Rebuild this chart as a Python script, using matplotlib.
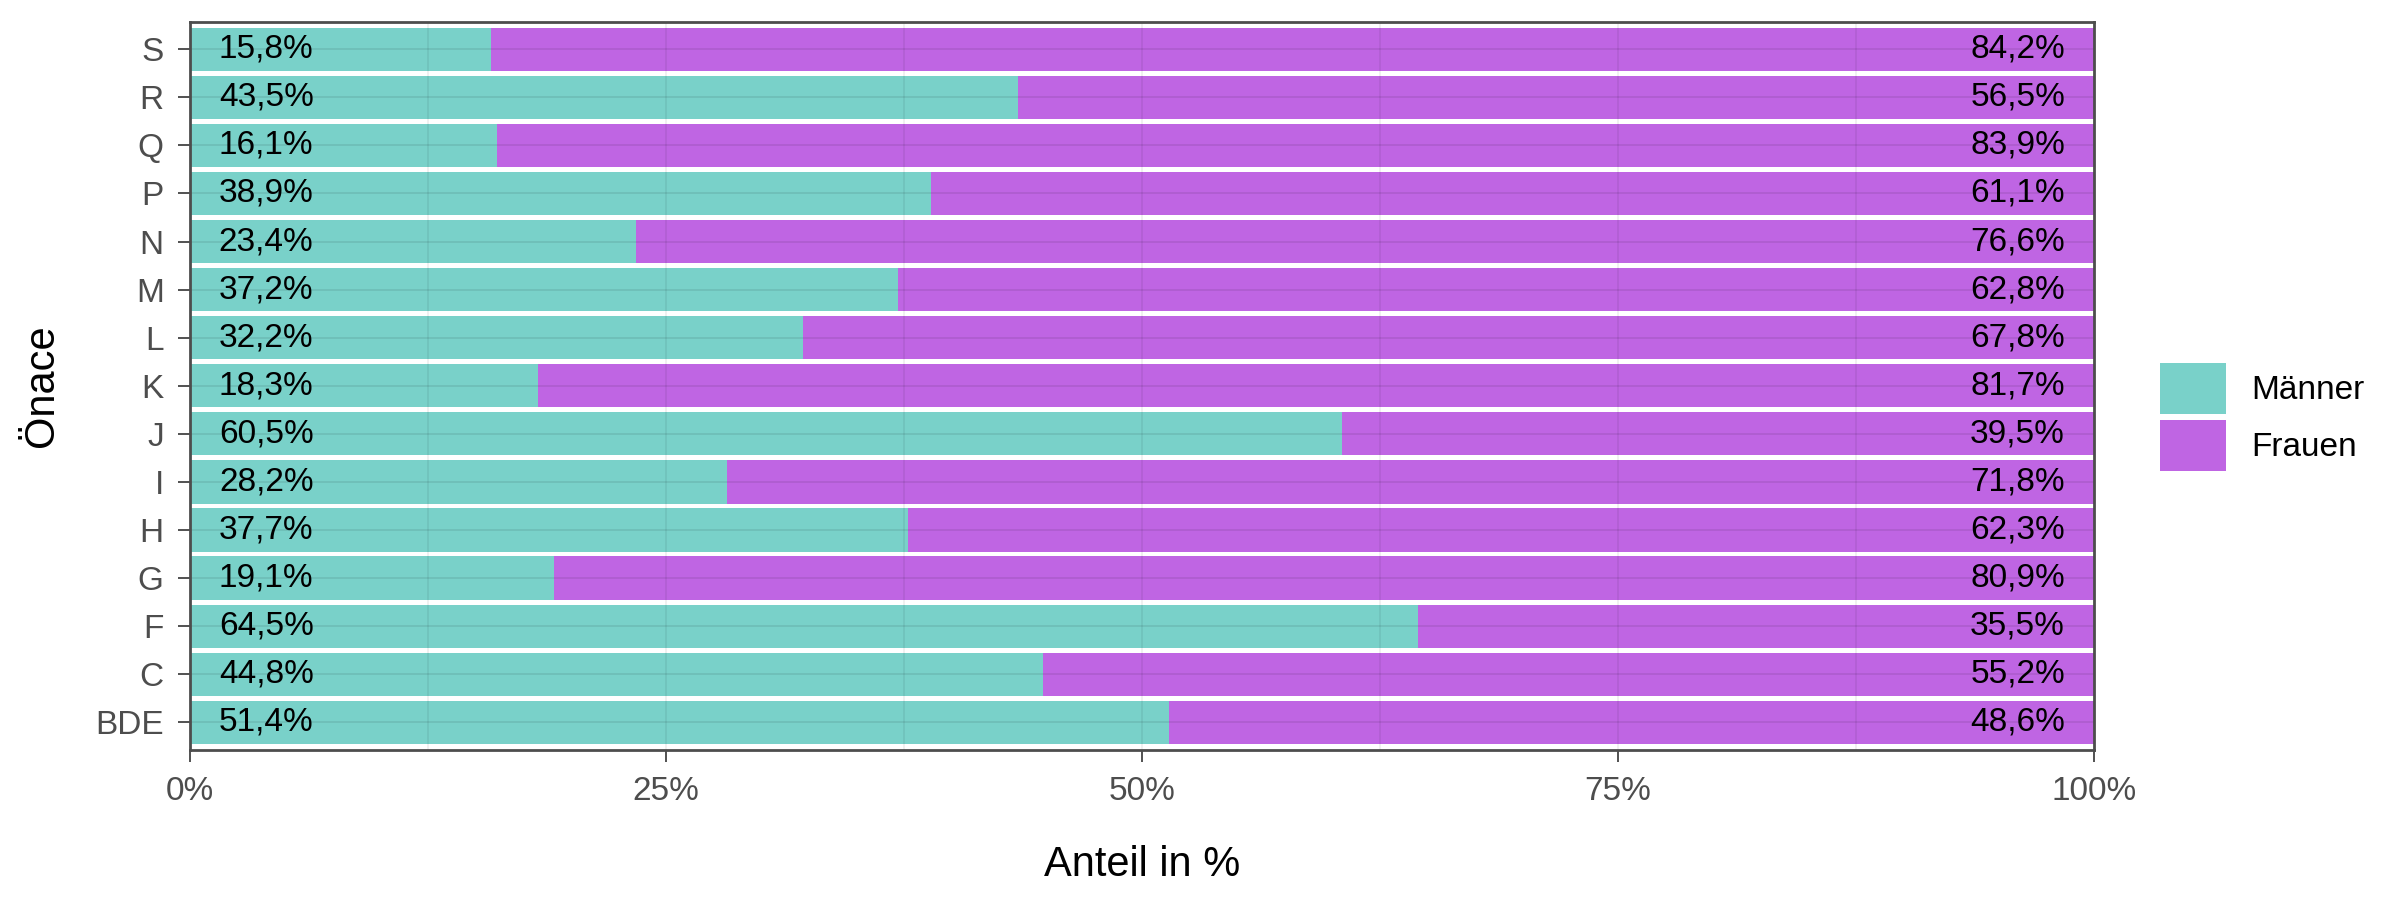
import numpy as np
import matplotlib
matplotlib.use("Agg")
import matplotlib.pyplot as plt
from matplotlib.ticker import MultipleLocator, FuncFormatter

plt.rcParams['font.family'] = ['Liberation Sans', 'DejaVu Sans']

# data (bottom to top)
oenace = ['BDE', 'C', 'F', 'G', 'H', 'I', 'J', 'K', 'L', 'M', 'N', 'P', 'Q', 'R', 'S']
maenner = [51.4, 44.8, 64.5, 19.1, 37.7, 28.2, 60.5, 18.3, 32.2, 37.2, 23.4, 38.9, 16.1, 43.5, 15.8]
frauen = [48.6, 55.2, 35.5, 80.9, 62.3, 71.8, 39.5, 81.7, 67.8, 62.8, 76.6, 61.1, 83.9, 56.5, 84.2]

col_m = '#79D1C9'
col_f = '#BF65E3'

m = np.array(maenner) / 100
f = np.array(frauen) / 100
y = np.arange(len(oenace))

fig = plt.figure(figsize=(12, 4.5), dpi=200)
ax = fig.add_axes([0.0792, 0.1667, 0.7932, 0.8093])

ax.barh(y, m, height=0.9, color=col_m, label='Männer', zorder=1)
ax.barh(y, f, left=m, height=0.9, color=col_f, label='Frauen', zorder=1)

def fmt(v):
    return ('%.1f%%' % v).replace('.', ',')

# value labels near both ends of the bars
for yi, mv, fv in zip(y, maenner, frauen):
    ax.text(0.04, yi, fmt(mv), ha='center', va='center', fontsize=12, color='black', zorder=3)
    ax.text(0.96, yi, fmt(fv), ha='center', va='center', fontsize=12, color='black', zorder=3)

ax.set_xlim(0, 1)
ax.set_ylim(-0.575, len(oenace) - 1 + 0.575)
ax.set_yticks(y)
ax.set_yticklabels(oenace)
ax.xaxis.set_major_locator(MultipleLocator(0.25))
ax.xaxis.set_minor_locator(MultipleLocator(0.125))
ax.xaxis.set_major_formatter(FuncFormatter(lambda v, p: '%d%%' % round(v * 100)))

ax.grid(True, which='both', axis='x', color='black', alpha=0.06, linewidth=0.7)
ax.grid(True, which='major', axis='y', color='black', alpha=0.08, linewidth=0.7)
ax.set_axisbelow(False)
for gl in ax.get_xgridlines() + ax.get_ygridlines() + ax.xaxis.get_minorticklines():
    gl.set_zorder(2)

ax.tick_params(axis='both', which='major', labelsize=12, labelcolor='#4D4D4D',
               color='#333333', length=4.3, width=0.6)
ax.tick_params(axis='x', which='major', pad=5.2)
ax.tick_params(axis='y', which='major', pad=5.2)
ax.tick_params(axis='x', which='minor', length=0)

for s in ax.spines.values():
    s.set_color('#4D4D4D')
    s.set_linewidth(1.0)
    s.set_zorder(4)

ax.set_xlabel('Anteil in %', fontsize=15, labelpad=13.5)
ax.set_ylabel('Önace', fontsize=15, labelpad=12)

fig.legend(loc='center left', bbox_to_anchor=(0.9, 0.5367), frameon=False,
           fontsize=12, handlelength=1.98, handleheight=1.98, labelspacing=0.18,
           handletextpad=0.75, borderpad=0, borderaxespad=0)

fig.savefig('out.png', dpi=200)
